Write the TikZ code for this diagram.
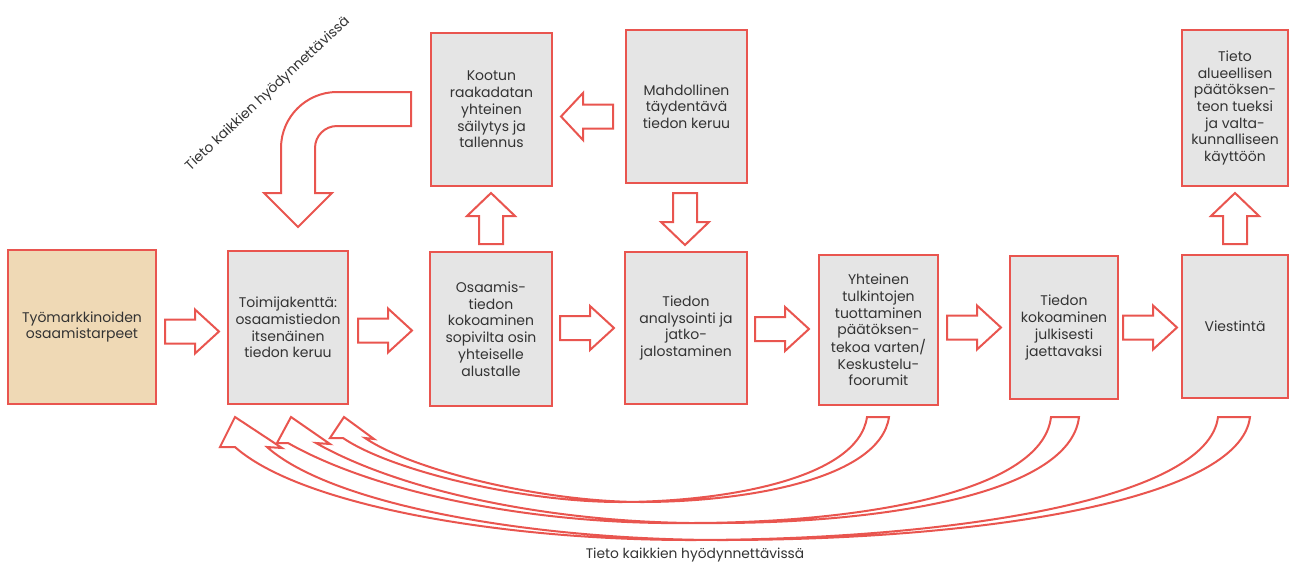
\documentclass[tikz,border=0pt]{standalone}
\usepackage{fontspec}
\setmainfont{Poppins}
\definecolor{rd}{HTML}{E9554F}
\definecolor{gr}{HTML}{E5E5E5}
\definecolor{tanbox}{HTML}{EFD9B5}
\definecolor{txt}{HTML}{333333}
\begin{document}
\begin{tikzpicture}[x=1pt,y=-1pt,
  box/.style={draw=rd, line width=2.6pt, fill=gr, text=txt, align=center, inner sep=0pt,
    font=\fontsize{14}{16.7}\selectfont},
  barrow/.style={draw=rd, line width=2pt, fill=white, line join=miter},
  lbl/.style={text=txt, inner sep=0pt, font=\fontsize{13.8}{15}\selectfont}]
\useasboundingbox (0,0) rectangle (1290,565);

% main row
\node[box, fill=tanbox, minimum width=148pt, minimum height=154pt] (b1) at (82,327) {Työmarkkinoiden\\osaamistarpeet};
\node[box, minimum width=120pt, minimum height=153pt] (b2) at (288,327.5) {Toimijakenttä:\\osaamistiedon\\itsenäinen\\tiedon keruu};
\node[box, minimum width=122pt, minimum height=154pt] (b3) at (491,329) {Osaamis-\\tiedon\\kokoaminen\\sopivilta osin\\yhteiselle\\alustalle};
\node[box, minimum width=122pt, minimum height=152pt] (b4) at (686,328) {Tiedon\\analysointi ja\\jatko-\\jalostaminen};
\node[box, minimum width=119pt, minimum height=150pt] (b5) at (878.5,330) {Yhteinen\\tulkintojen\\tuottaminen\\päätöksen-\\tekoa varten/\\Keskustelu-\\foorumit};
\node[box, minimum width=108pt, minimum height=143pt] (b6) at (1064,327.5) {Tiedon\\kokoaminen\\julkisesti\\jaettavaksi};
\node[box, minimum width=106pt, minimum height=143pt] (b7) at (1235,326.5) {Viestintä};
% top row
\node[box, minimum width=121pt, minimum height=153pt] (t3) at (491.5,109.5) {Kootun\\raakadatan\\yhteinen\\säilytys ja\\tallennus};
\node[box, minimum width=121pt, minimum height=153pt] (t4) at (686.5,106.5) {Mahdollinen\\täydentävä\\tiedon keruu};
\node[box, minimum width=106pt, minimum height=156pt] (t7) at (1235,108) {Tieto\\alueellisen\\päätöksen-\\teon tueksi\\ja valta-\\kunnalliseen\\käyttöön};

% right block arrows
\foreach \tx/\cy in {165/331.5, 358/330.5, 560/328, 755/329, 947/327.5, 1123/327.5}{
  \draw[barrow] (\tx,\cy-12) -- ++(30,0) -- ++(0,-10) -- ++(24,22) -- ++(-24,22) -- ++(0,-10) -- ++(-30,0) -- cycle;
}
% up block arrows
\foreach \cx in {491, 1235}{
  \draw[barrow] (\cx-12,244) -- ++(0,-28) -- ++(-12,0) -- ++(24,-23) -- ++(24,23) -- ++(-12,0) -- ++(0,28) -- cycle;
}
% down block arrow
\draw[barrow] (673,193) -- (673,222) -- (661,222) -- (685,245) -- (709,222) -- (697,222) -- (697,193) -- cycle;
% left block arrow
\draw[barrow] (613,104.5) -- (583,104.5) -- (583,93) -- (561,116.5) -- (583,140) -- (583,128.5) -- (613,128.5) -- cycle;

% bent arrow
\draw[barrow] (411,92) -- (337,92) .. controls (306.1,92) and (281,117.1) .. (281,148) -- (281,193) -- (264,193) -- (298,227) -- (332,193) -- (315,193) -- (315,148) .. controls (315,135.85) and (324.85,126) .. (337,126) -- (411,126) -- cycle;

% curved return arrows
% A (from Viestintä), w=32
\draw[barrow] (1218,417) -- (1250,417)
  .. controls (1240,500) and (982,540) .. (722,540)
  .. controls (532,540) and (332,505) .. (267,447)
  -- (282,448) -- (235,417) -- (220,447) -- (235,447)
  .. controls (300,505) and (500,540) .. (690,540)
  .. controls (950,540) and (1208,500) .. (1218,417) -- cycle;
% B (from Tiedon kokoaminen), w=28
\draw[barrow] (1051,417) -- (1079,417)
  .. controls (1070,495) and (878,523) .. (718,523)
  .. controls (568,525) and (408,495) .. (316,443)
  -- (330,444) -- (291,417) -- (277,443) -- (288,443)
  .. controls (380,495) and (540,525) .. (690,523)
  .. controls (850,523) and (1042,495) .. (1051,417) -- cycle;
% C (from Yhteinen), w=22
\draw[barrow] (867,417) -- (889,417)
  .. controls (880,480) and (742,502) .. (642,502)
  .. controls (542,502) and (412,470) .. (365,438)
  -- (374,439) -- (344,417) -- (330,438) -- (343,438)
  .. controls (390,470) and (520,502) .. (620,502)
  .. controls (720,502) and (858,480) .. (867,417) -- cycle;

% labels
\node[lbl, rotate=43] (lt) at (268,94) {Tieto kaikkien hyödynnettävissä};
\node[lbl] (lb) at (695,555) {Tieto kaikkien hyödynnettävissä};
\end{tikzpicture}
\end{document}
